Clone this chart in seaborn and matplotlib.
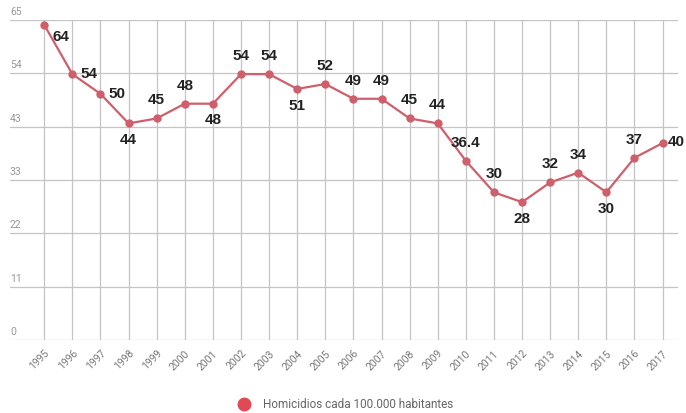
import matplotlib
matplotlib.use("Agg")
import matplotlib.pyplot as plt
import matplotlib.transforms as mtransforms
from matplotlib.lines import Line2D
import seaborn as sns
import pandas as pd
import numpy as np

years = list(range(1995, 2018))
values = [64, 54, 50, 44, 45, 48, 48, 54, 54, 51, 52, 49, 49, 45, 44, 36.4, 30, 28, 32, 34, 30, 37, 40]
value_labels = ["64", "54", "50", "44", "45", "48", "48", "54", "54", "51", "52", "49", "49",
                "45", "44", "36.4", "30", "28", "32", "34", "30", "37", "40"]
# label placement: 'a' above, 'b' below, 'r' right, 'rb' right-below, 're' right at edge
placement = ["rb", "r", "r", "b", "a", "a", "b", "a", "a", "b", "a", "a", "a",
             "a", "a", "a", "a", "b", "a", "a", "b", "a", "re"]
ytick_values = list(np.linspace(0, 65, 7))
ytick_labels = ["0", "11", "22", "33", "43", "54", "65"]
series_name = "Homicidios cada 100.000 habitantes"

df = pd.DataFrame({"year": years, "value": values})

sns.set_style("white")
plt.rcParams["font.family"] = ["Roboto", "DejaVu Sans"]

fig = plt.figure(figsize=(6.86, 4.13), dpi=100)
ax = fig.add_axes([10 / 686, 73 / 413, 668 / 686, 320 / 413])

line_color = "#cf5f6b"
sns.lineplot(data=df, x="year", y="value", ax=ax, color=line_color, linewidth=1.6,
             marker="o", markersize=6, markeredgewidth=0, markerfacecolor=line_color, zorder=3)

ax.set_xlim(1993.78, 2017.55)
ax.set_ylim(0, 65)
ax.set_xticks(years)
ax.set_xticklabels([str(y) for y in years], rotation=45, ha="right", rotation_mode="anchor",
                   fontsize=7.5, color="#777777")
ax.tick_params(axis="x", length=4, color="#aaaaaa", pad=2)
ax.set_yticks(ytick_values)
ax.set_yticklabels([])
ax.tick_params(axis="y", length=0)
ax.grid(True, color="#c4c4c4", linewidth=0.9)
ax.set_axisbelow(True)
for s in ax.spines.values():
    s.set_visible(False)
ax.set_xlabel("")
ax.set_ylabel("")

trans = mtransforms.blended_transform_factory(ax.transAxes, ax.transData)
for v, lab in zip(ytick_values, ytick_labels):
    ax.text(0.0, v + 0.6, lab, transform=trans, ha="left", va="bottom", fontsize=7.5,
            color="#999999")

offsets = {"a": (0, 8, "center", "bottom"), "b": (0, -7, "center", "top"),
           "r": (6, 0, "left", "center"), "rb": (6, -4, "left", "top"),
           "re": (4, 1, "left", "center")}
for x, v, lab, p in zip(years, values, value_labels, placement):
    dx, dy, ha, va = offsets[p]
    ax.annotate(lab, (x, v), xytext=(dx, dy), textcoords="offset points", ha=ha, va=va,
                fontsize=11, fontweight="bold", color="#222222",
                family=["Liberation Sans", "DejaVu Sans"])

handle = Line2D([], [], marker="o", linestyle="none", markersize=10, markerfacecolor="#e04a55",
                markeredgewidth=0)
fig.legend([handle], [series_name], loc="center", bbox_to_anchor=(0.5, 8 / 413), frameon=False,
           fontsize=8.5, labelcolor="#666666", handletextpad=0.6)

fig.savefig("out.png", dpi=100)
